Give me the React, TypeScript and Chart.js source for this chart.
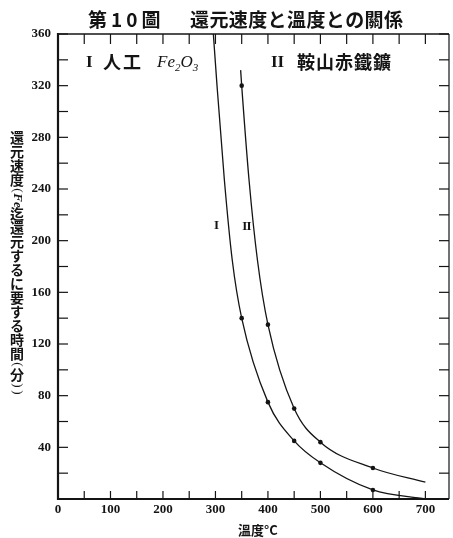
import React, { useEffect, useRef } from 'react';
import { Chart, registerables } from 'chart.js';

Chart.register(...registerables);

// ---- text ----
const TITLE_NUM = '第10圖';
const TITLE_TEXT = '還元速度と溫度との關係';
const X_TITLE = '溫度°C';
const Y_TITLE = ['還', '元', '速', '度', '(', 'Fe', '迄', '還', '元', 'す', 'る', 'に', '要', 'す', 'る', '時', '間', '(', '分', ')', ')'];
const NOTE_I_NUM = 'I';
const NOTE_I_TEXT = '人工';
const NOTE_II_NUM = 'II';
const NOTE_II_TEXT = '鞍山赤鐵鑛';
const CURVE_LABELS = ['I', 'II'];

// ---- axes ----
const X_MIN = 0;
const X_MAX = 745;
const Y_MIN = 0;
const Y_MAX = 360;
const X_TICKS = [0, 50, 100, 150, 200, 250, 300, 350, 400, 450, 500, 550, 600, 650, 700];
const X_LABELS = [0, 100, 200, 300, 400, 500, 600, 700];
const Y_TICKS = [0, 20, 40, 60, 80, 100, 120, 140, 160, 180, 200, 220, 240, 260, 280, 300, 320, 340, 360];
const Y_LABELS = [40, 80, 120, 160, 200, 240, 280, 320, 360];

// ---- curve I (人工 Fe2O3) ----
const curveI_temp = [296, 303, 317, 332, 350, 400, 450, 500, 600, 700];
const curveI_time = [360, 320, 247, 185, 140, 75, 45, 28, 7, 0];
// measured points of curve I
const pointsI_temp = [350, 400, 450, 500, 600];
const pointsI_time = [140, 75, 45, 28, 7];

// ---- curve II (鞍山赤鐵鑛) ----
const curveII_temp = [348, 350, 364, 380, 400, 450, 500, 600, 700];
const curveII_time = [332, 320, 247, 185, 135, 70, 44, 24, 13];
const pointsII_temp = [350, 400, 450, 500, 600];
const pointsII_time = [320, 135, 70, 44, 24];

// curve label anchors (data coords)
const curveLabel_temp = [302, 359];
const curveLabel_time = [212, 211];

const INK = '#141414';
const SERIF = '"Liberation Serif", "DejaVu Serif", serif';
const CJK = '"Noto Sans CJK JP", "Noto Sans CJK TC", sans-serif';

const toXY = (xs: number[], ys: number[]) => xs.map((x, i) => ({ x, y: ys[i] }));

const decor = {
  id: 'decor',
  afterDraw(chart: any) {
    const { ctx, chartArea, scales } = chart;
    const { left, right, top, bottom } = chartArea;
    const xs = scales.x;
    const ys = scales.y;
    ctx.save();
    ctx.strokeStyle = INK;
    ctx.fillStyle = INK;
    const line = (x1: number, y1: number, x2: number, y2: number, w: number) => {
      ctx.lineWidth = w;
      ctx.beginPath();
      ctx.moveTo(x1, y1);
      ctx.lineTo(x2, y2);
      ctx.stroke();
    };
    // inward ticks
    for (const t of X_TICKS) {
      const px = xs.getPixelForValue(t);
      line(px, bottom, px, bottom - 8, 1.2);
      line(px, top, px, top + 10, 1.2);
    }
    for (const t of Y_TICKS) {
      const py = ys.getPixelForValue(t);
      line(left, py, left + 10, py, 1.2);
      line(right, py, right - 10, py, 1.2);
    }
    // frame
    line(left, top - 1, left, bottom + 1, 2.2);
    line(left - 1, bottom, right, bottom, 1.8);
    line(left - 1, top, right, top, 1.5);
    line(right, top, right, bottom, 1.2);

    ctx.textBaseline = 'middle';
    // title
    ctx.textAlign = 'left';
    ctx.font = `bold 19px ${CJK}`;
    (ctx as any).letterSpacing = '4px';
    ctx.fillText(TITLE_NUM, 88, 20);
    (ctx as any).letterSpacing = '0.4px';
    ctx.fillText(TITLE_TEXT, 190, 20);

    // legend notes
    (ctx as any).letterSpacing = '0px';
    ctx.font = `bold 17px ${SERIF}`;
    ctx.fillText(NOTE_I_NUM, 86, 63);
    ctx.font = `bold 18px ${CJK}`;
    (ctx as any).letterSpacing = '2px';
    ctx.fillText(NOTE_I_TEXT, 103, 62);
    (ctx as any).letterSpacing = '0px';
    // Fe2O3
    let cx = 157;
    const big = `italic 17px ${SERIF}`;
    const small = `italic 11px ${SERIF}`;
    const parts: [string, string, number][] = [['Fe', big, 63], ['2', small, 68], ['O', big, 63], ['3', small, 68]];
    for (const [s, f, yy] of parts) {
      ctx.font = f;
      ctx.fillText(s, cx, yy);
      cx += ctx.measureText(s).width;
    }
    ctx.font = `bold 17px ${SERIF}`;
    ctx.fillText(NOTE_II_NUM, 271, 63);
    ctx.font = `bold 18px ${CJK}`;
    (ctx as any).letterSpacing = '1px';
    ctx.fillText(NOTE_II_TEXT, 297, 62);
    (ctx as any).letterSpacing = '0px';

    // curve labels
    ctx.textAlign = 'center';
    ctx.font = `bold 13px ${SERIF}`;
    for (let i = 0; i < CURVE_LABELS.length; i++) {
      if (i === 1) (ctx as any).letterSpacing = '-1px';
      ctx.fillText(CURVE_LABELS[i], xs.getPixelForValue(curveLabel_temp[i]), ys.getPixelForValue(curveLabel_time[i]));
    }
    (ctx as any).letterSpacing = '0px';

    // x title
    ctx.font = `bold 13px ${CJK}`;
    ctx.fillText(X_TITLE, 258, 530);

    // y title (vertical)
    let yy = 131;
    const colX = 17;
    for (const ch of Y_TITLE) {
      const isParen = ch === '(' || ch === ')';
      const isLatin = ch === 'Fe';
      const h = isParen ? 7 : isLatin ? 13 : 14;
      const cy = yy + h / 2;
      if (isParen || isLatin) {
        ctx.save();
        ctx.translate(colX, cy);
        ctx.rotate(Math.PI / 2);
        ctx.font = isLatin ? `italic bold 13px ${SERIF}` : `13px ${SERIF}`;
        ctx.textAlign = 'center';
        ctx.fillText(ch, 0, 0);
        ctx.restore();
      } else {
        ctx.font = `bold 14px ${CJK}`;
        ctx.textAlign = 'center';
        ctx.fillText(ch, colX, cy);
      }
      yy += h;
    }
    ctx.restore();
  },
};

export default function App() {
  const ref = useRef<HTMLCanvasElement | null>(null);
  useEffect(() => {
    if (!ref.current) return;
    const lineStyle = {
      showLine: true,
      borderColor: INK,
      borderWidth: 1.3,
      pointRadius: 0,
      cubicInterpolationMode: 'monotone' as const,
      fill: false,
    };
    const pointStyle = {
      showLine: false,
      pointRadius: 2.3,
      pointBackgroundColor: INK,
      pointBorderColor: INK,
      borderWidth: 0,
    };
    const chart = new Chart(ref.current, {
      type: 'scatter',
      data: {
        datasets: [
          { label: 'I', data: toXY(curveI_temp, curveI_time), ...lineStyle },
          { label: 'II', data: toXY(curveII_temp, curveII_time), ...lineStyle },
          { label: 'I pts', data: toXY(pointsI_temp, pointsI_time), ...pointStyle },
          { label: 'II pts', data: toXY(pointsII_temp, pointsII_time), ...pointStyle },
        ],
      },
      options: {
        responsive: false,
        animation: false,
        events: [],
        layout: { padding: { top: 34, right: 2, left: 0, bottom: 0 } },
        plugins: { legend: { display: false }, title: { display: false }, tooltip: { enabled: false } },
        scales: {
          x: {
            type: 'linear',
            min: X_MIN,
            max: X_MAX,
            grid: { display: false, drawTicks: false },
            border: { display: false },
            afterBuildTicks: (s: any) => { s.ticks = X_TICKS.map((v) => ({ value: v })); },
            afterFit: (s: any) => { s.height = 39; },
            ticks: {
              autoSkip: false,
              maxRotation: 0,
              padding: 3,
              color: INK,
              font: { family: SERIF, size: 13, weight: 'bold' },
              callback: (v: any) => (X_LABELS.includes(Number(v)) ? String(v) : ''),
            },
          },
          y: {
            type: 'linear',
            min: Y_MIN,
            max: Y_MAX,
            grid: { display: false, drawTicks: false },
            border: { display: false },
            afterBuildTicks: (s: any) => { s.ticks = Y_TICKS.map((v) => ({ value: v })); },
            afterFit: (s: any) => { s.width = 58; },
            ticks: {
              autoSkip: false,
              padding: 7,
              color: INK,
              font: { family: SERIF, size: 13, weight: 'bold' },
              callback: (v: any) => (Y_LABELS.includes(Number(v)) ? String(v) : ''),
            },
          },
        },
      },
      plugins: [decor],
    });
    return () => chart.destroy();
  }, []);
  return (
    <div style={{ position: 'absolute', left: 0, top: 0, width: 453, height: 538, background: '#fff' }}>
      <canvas ref={ref} width={453} height={538} />
    </div>
  );
}
